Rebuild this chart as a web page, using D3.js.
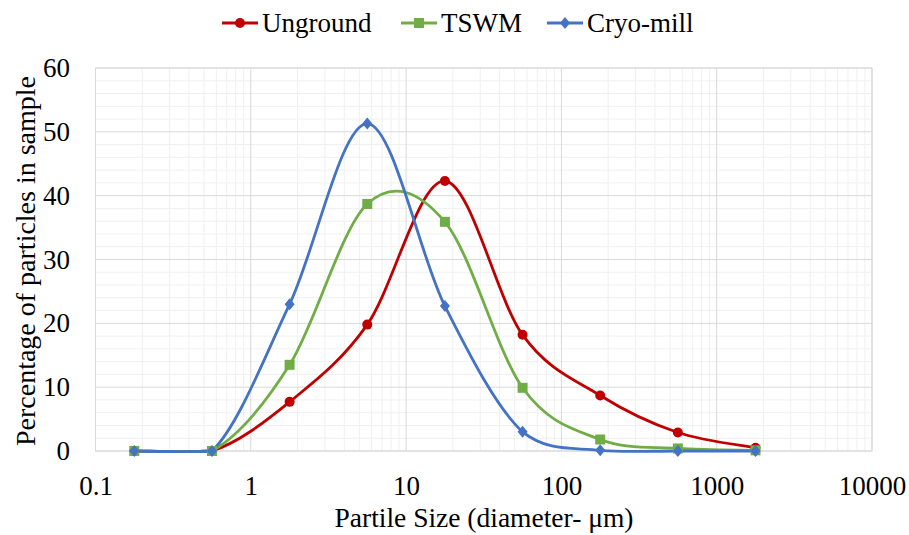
<!DOCTYPE html>
<html><head><meta charset="utf-8">
<script src="https://cdn.jsdelivr.net/npm/d3@7"></script>
<style>body{margin:0;background:#fff}svg{display:block}text{font-family:"Times New Roman","Liberation Serif","DejaVu Serif",serif !important;fill:#000}</style>
</head><body><svg id="c" width="909" height="535"></svg>
<script>
const sizes = [0.1778, 0.5623, 1.778, 5.623, 17.78, 56.23, 177.8, 562.3, 1778];
const unground = [0, 0, 7.7, 19.8, 42.3, 18.2, 8.7, 2.9, 0.5];
const tswm = [0, 0, 13.5, 38.7, 35.9, 9.9, 1.8, 0.4, 0.1];
const cryo = [0, 0, 23.0, 51.3, 22.7, 3.0, 0.1, 0, 0];
const seriesNames = ["Unground", "TSWM", "Cryo-mill"];
const xTicks = [0.1, 1, 10, 100, 1000, 10000];
const xTickLabels = ["0.1", "1", "10", "100", "1000", "10000"];
const yTicks = [0, 10, 20, 30, 40, 50, 60];

const colors = ["#C00000", "#70AD47", "#4472C4"];
const svg = d3.select("#c");
const L = 95.5, R = 872, T = 68, B = 451;
const x = d3.scaleLog().domain([0.1, 10000]).range([L, R]);
const y = d3.scaleLinear().domain([0, 60]).range([B, T]);

const minorX = [];
for (let e = -1; e < 4; e++) for (let k = 2; k < 10; k++) minorX.push(k * Math.pow(10, e));
svg.append("g").selectAll("line").data(minorX).join("line")
  .attr("x1", d => x(d)).attr("x2", d => x(d)).attr("y1", T).attr("y2", B)
  .attr("stroke", "#F0F0F0").attr("stroke-width", 1);
const minorY = d3.range(0, 61, 2).filter(v => v % 10 !== 0);
svg.append("g").selectAll("line").data(minorY).join("line")
  .attr("x1", L).attr("x2", R).attr("y1", d => y(d)).attr("y2", d => y(d))
  .attr("stroke", "#F0F0F0").attr("stroke-width", 1);
svg.append("g").selectAll("line").data(xTicks).join("line")
  .attr("x1", d => x(d)).attr("x2", d => x(d)).attr("y1", T).attr("y2", B)
  .attr("stroke", "#D9D9D9").attr("stroke-width", 1);
svg.append("g").selectAll("line").data(yTicks).join("line")
  .attr("x1", L).attr("x2", R).attr("y1", d => y(d)).attr("y2", d => y(d))
  .attr("stroke", "#D9D9D9").attr("stroke-width", 1);
svg.append("rect").attr("x", L).attr("y", T).attr("width", R - L).attr("height", B - T)
  .attr("fill", "none").attr("stroke", "#D9D9D9");

const xAxis = svg.append("g").attr("transform", `translate(0,${B})`)
  .call(d3.axisBottom(x).tickValues(xTicks).tickFormat((d, i) => xTickLabels[i]).tickSize(0).tickPadding(25));
xAxis.attr("font-family", null).select(".domain").remove();
xAxis.selectAll("text").style("font-size", "27px");
const yAxis = svg.append("g").attr("transform", `translate(${L},0)`)
  .call(d3.axisLeft(y).tickValues(yTicks).tickSize(0).tickPadding(25.5));
yAxis.attr("font-family", null).select(".domain").remove();
yAxis.selectAll("text").style("font-size", "27px");

function smoothPath(vals) {
  const p = vals.map((v, i) => [x(sizes[i]), y(v)]);
  const n = p.length, path = d3.path();
  const floor = y(0) + 1.5;
  path.moveTo(p[0][0], p[0][1]);
  for (let i = 0; i < n - 1; i++) {
    const p0 = p[Math.max(i - 1, 0)], p1 = p[i], p2 = p[i + 1], p3 = p[Math.min(i + 2, n - 1)];
    const c1 = [p1[0] + (p2[0] - p0[0]) / 6, Math.min(floor, p1[1] + (p2[1] - p0[1]) / 6)];
    const c2 = [p2[0] - (p3[0] - p1[0]) / 6, Math.min(floor, p2[1] - (p3[1] - p1[1]) / 6)];
    path.bezierCurveTo(c1[0], c1[1], c2[0], c2[1], p2[0], p2[1]);
  }
  return path.toString();
}
const data = [unground, tswm, cryo];
data.forEach((s, k) => {
  svg.append("path").attr("d", smoothPath(s)).attr("fill", "none").attr("stroke", colors[k]).attr("stroke-width", 2.8);
});
function marker(g, k, cx, cy) {
  if (k === 0) g.append("circle").attr("cx", cx).attr("cy", cy).attr("r", 5).attr("fill", colors[0]);
  else if (k === 1) g.append("rect").attr("x", cx - 5).attr("y", cy - 5).attr("width", 10).attr("height", 10).attr("fill", colors[1]);
  else g.append("path").attr("d", `M${cx},${cy - 6}L${cx + 5},${cy}L${cx},${cy + 6}L${cx - 5},${cy}Z`).attr("fill", colors[2]);
}
data.forEach((s, k) => {
  const g = svg.append("g");
  s.forEach((v, i) => marker(g, k, x(sizes[i]), y(v)));
});

svg.append("text").attr("x", 484).attr("y", 527).attr("text-anchor", "middle")
  .style("font-size", "27.5px").text("Partile Size (diameter- μm)");
svg.append("text").attr("transform", `translate(35,261) rotate(-90)`).attr("text-anchor", "middle")
  .style("font-size", "28px").text("Percentage of particles in sample");

const legX = [222, 401, 547];
seriesNames.forEach((n, k) => {
  const g = svg.append("g");
  g.append("line").attr("x1", legX[k]).attr("x2", legX[k] + 36).attr("y1", 23).attr("y2", 23)
    .attr("stroke", colors[k]).attr("stroke-width", 2.8);
  marker(g, k, legX[k] + 18, 23);
  g.append("text").attr("x", legX[k] + 40).attr("y", 32).style("font-size", "27px").text(n);
});
</script></body></html>
